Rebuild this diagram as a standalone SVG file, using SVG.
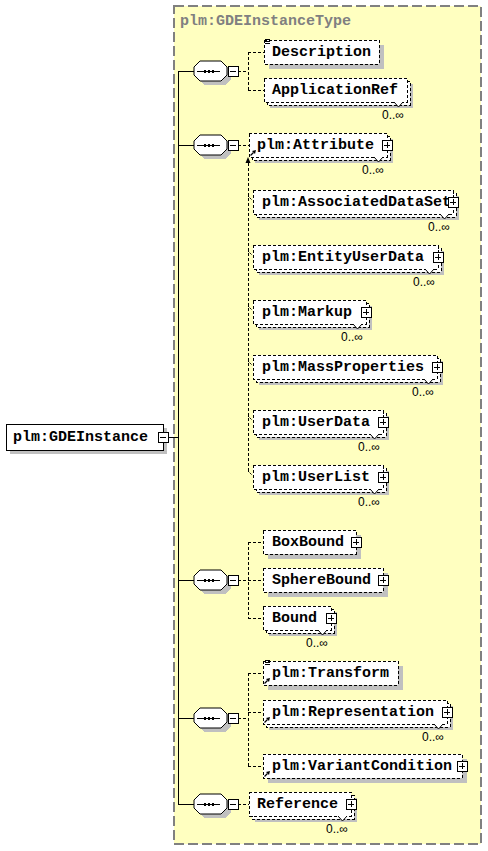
<svg xmlns="http://www.w3.org/2000/svg" xmlns:xlink="http://www.w3.org/1999/xlink" width="488" height="851" viewBox="0 0 488 851">
<style>
.sh{fill:#c0c0c0;stroke:none;shape-rendering:crispEdges}
.bx{fill:#fff;stroke:#000;stroke-width:1;stroke-dasharray:3 2;shape-rendering:crispEdges}
.sb{fill:#fff;stroke:#000;stroke-width:1;shape-rendering:crispEdges}
.ln{stroke:#000;stroke-width:1;fill:none;shape-rendering:crispEdges}
.dc{stroke:#000;stroke-width:1;fill:none;stroke-dasharray:3 2;shape-rendering:crispEdges}
.v{fill:#fff;stroke:#000;stroke-width:1}
.t{font-family:"Liberation Mono","Courier New",monospace;font-weight:bold;font-size:15px;fill:#000}
.tg{font-family:"Liberation Mono","Courier New",monospace;font-weight:bold;font-size:15px;fill:#808080}
.o{font-family:"Liberation Sans",Arial,sans-serif;font-size:12px;fill:#000}
</style>
<defs>
<g id="plus"><rect class="sb" x="0" y="0" width="10" height="10"/><path class="ln" d="M2 5H8M5 2V8"/></g>
<g id="minus"><rect class="sb" x="0" y="0" width="10" height="10"/><path class="ln" d="M2 5H8"/></g>
<g id="seq">
<polygon class="sh" points="10,-6 31,-6 37,0 37,8 31,14 10,14 4,8 4,0"/>
<polygon points="6,-10 27,-10 33,-4 33,4 27,10 6,10 0,4 0,-4" fill="#fff" stroke="#000" stroke-width="1"/>
<path class="ln" d="M3 0H26"/>
<rect x="10" y="-1" width="2" height="3" fill="#000"/>
<rect x="14" y="-1" width="2" height="3" fill="#000"/>
<rect x="18" y="-1" width="2" height="3" fill="#000"/>
<use xlink:href="#minus" href="#minus" x="34" y="-5"/>
</g>
<g id="ra"><path d="M1.5 -1.5L4.5 -4.5" stroke="#000" stroke-width="1.2" fill="none"/><polygon points="7,-7 3,-6 6,-3" fill="#000"/></g>
<g id="eq"><path class="ln" d="M1 -1H6M1 1H6M1 3H6"/></g>
</defs>

<!-- complex type container -->
<g id="n-GDEInstanceType">
<rect x="174" y="6" width="307" height="838" fill="#ffffc0" stroke="#808080" stroke-width="2" stroke-dasharray="10 4"/>
<text class="tg" x="180" y="25">plm:GDEInstanceType</text>
</g>

<!-- connectors -->
<g id="connectors">
<path class="ln" d="M168 437H178M178 71V804M178 71H194M178 145H194M178 580H194M178 718H194M178 804H194"/>
<path class="dc" d="M238 71H248M248 52V90M248 52H264M248 90H264"/>
<path class="dc" d="M238 145H249"/>
<path class="dc" d="M248 163V472"/>
<polygon points="248,157 245.5,163 250.5,163" fill="#000"/>
<path d="M248 196L252 200M248 251L252 255M248 306L252 310M248 361L252 365M248 416L252 420M248 471L252 475" stroke="#000" stroke-width="1" stroke-dasharray="2 1" fill="none"/>
<path class="dc" d="M238 580H248M248 542V618M248 542H263M248 580H263M248 618H263"/>
<path class="dc" d="M238 718H248M248 673V766M248 673H263M248 712H263M248 766H263"/>
<path class="dc" d="M238 804H249"/>
</g>

<!-- root element -->
<g id="n-GDEInstance">
<rect class="sh" x="10" y="428" width="157" height="26"/>
<rect class="sb" x="6" y="424" width="157" height="26"/>
<text class="t" x="13" y="441">plm:GDEInstance</text>
<use xlink:href="#minus" href="#minus" x="158" y="432"/>
</g>

<!-- sequences -->
<g id="n-seq1"><use xlink:href="#seq" href="#seq" x="194" y="71"/></g>
<g id="n-seq2"><use xlink:href="#seq" href="#seq" x="194" y="145"/></g>
<g id="n-seq3"><use xlink:href="#seq" href="#seq" x="194" y="580"/></g>
<g id="n-seq4"><use xlink:href="#seq" href="#seq" x="194" y="718"/></g>
<g id="n-seq5"><use xlink:href="#seq" href="#seq" x="194" y="804"/></g>

<!-- elements -->
<g id="n-Description">
<rect class="sh" x="269" y="45" width="115" height="24"/>
<rect class="bx" x="264" y="40" width="115" height="24"/>
<use xlink:href="#eq" href="#eq" x="264" y="40"/>
<text class="t" x="272" y="56">Description</text>
</g>

<g id="n-ApplicationRef">
<rect class="sh" x="270" y="84" width="143" height="24"/>
<rect class="bx" x="267" y="81" width="143" height="24"/>
<rect class="bx" x="264" y="78" width="143" height="24"/>
<polyline class="v" points="394,102 398.5,107 403,102"/>
<text class="t" x="272" y="94">ApplicationRef</text>
<text class="o" x="382" y="118.5">0..∞</text>
</g>

<g id="n-Attribute">
<rect class="sh" x="255" y="139" width="138" height="24"/>
<rect class="bx" x="252" y="136" width="138" height="24"/>
<rect class="bx" x="249" y="133" width="138" height="24"/>
<polyline class="v" points="374,157 378.5,162 383,157"/>
<use xlink:href="#ra" href="#ra" x="249" y="157"/>
<text class="t" x="257" y="149">plm:Attribute</text>
<use xlink:href="#plus" href="#plus" x="382" y="140"/>
<text class="o" x="362" y="173.5">0..∞</text>
</g>

<g id="n-AssociatedDataSet">
<rect class="sh" x="259" y="196" width="200" height="24"/>
<rect class="bx" x="256" y="193" width="200" height="24"/>
<rect class="bx" x="253" y="190" width="200" height="24"/>
<polyline class="v" points="440,214 444.5,219 449,214"/>
<text class="t" x="262" y="206">plm:AssociatedDataSet</text>
<use xlink:href="#plus" href="#plus" x="448" y="197"/>
<text class="o" x="428" y="230.5">0..∞</text>
</g>

<g id="n-EntityUserData">
<rect class="sh" x="259" y="251" width="185" height="24"/>
<rect class="bx" x="256" y="248" width="185" height="24"/>
<rect class="bx" x="253" y="245" width="185" height="24"/>
<polyline class="v" points="425,269 429.5,274 434,269"/>
<text class="t" x="262" y="261">plm:EntityUserData</text>
<use xlink:href="#plus" href="#plus" x="433" y="252"/>
<text class="o" x="413" y="285.5">0..∞</text>
</g>

<g id="n-Markup">
<rect class="sh" x="259" y="306" width="113" height="24"/>
<rect class="bx" x="256" y="303" width="113" height="24"/>
<rect class="bx" x="253" y="300" width="113" height="24"/>
<polyline class="v" points="353,324 357.5,329 362,324"/>
<text class="t" x="262" y="316">plm:Markup</text>
<use xlink:href="#plus" href="#plus" x="361" y="307"/>
<text class="o" x="341" y="340.5">0..∞</text>
</g>

<g id="n-MassProperties">
<rect class="sh" x="259" y="361" width="184" height="24"/>
<rect class="bx" x="256" y="358" width="184" height="24"/>
<rect class="bx" x="253" y="355" width="184" height="24"/>
<polyline class="v" points="424,379 428.5,384 433,379"/>
<text class="t" x="262" y="371">plm:MassProperties</text>
<use xlink:href="#plus" href="#plus" x="432" y="362"/>
<text class="o" x="412" y="395.5">0..∞</text>
</g>

<g id="n-UserData">
<rect class="sh" x="259" y="416" width="130" height="24"/>
<rect class="bx" x="256" y="413" width="130" height="24"/>
<rect class="bx" x="253" y="410" width="130" height="24"/>
<polyline class="v" points="370,434 374.5,439 379,434"/>
<text class="t" x="262" y="426">plm:UserData</text>
<use xlink:href="#plus" href="#plus" x="378" y="417"/>
<text class="o" x="358" y="450.5">0..∞</text>
</g>

<g id="n-UserList">
<rect class="sh" x="259" y="471" width="130" height="24"/>
<rect class="bx" x="256" y="468" width="130" height="24"/>
<rect class="bx" x="253" y="465" width="130" height="24"/>
<polyline class="v" points="370,489 374.5,494 379,489"/>
<text class="t" x="262" y="481">plm:UserList</text>
<use xlink:href="#plus" href="#plus" x="378" y="472"/>
<text class="o" x="358" y="505.5">0..∞</text>
</g>

<g id="n-BoxBound">
<rect class="sh" x="268" y="535" width="93" height="24"/>
<rect class="bx" x="263" y="530" width="93" height="24"/>
<text class="t" x="272" y="546">BoxBound</text>
<use xlink:href="#plus" href="#plus" x="351" y="537"/>
</g>

<g id="n-SphereBound">
<rect class="sh" x="268" y="573" width="120" height="24"/>
<rect class="bx" x="263" y="568" width="120" height="24"/>
<text class="t" x="272" y="584">SphereBound</text>
<use xlink:href="#plus" href="#plus" x="378" y="575"/>
</g>

<g id="n-Bound">
<rect class="sh" x="269" y="612" width="68" height="24"/>
<rect class="bx" x="266" y="609" width="68" height="24"/>
<rect class="bx" x="263" y="606" width="68" height="24"/>
<polyline class="v" points="318,630 322.5,635 327,630"/>
<text class="t" x="272" y="622">Bound</text>
<use xlink:href="#plus" href="#plus" x="326" y="613"/>
<text class="o" x="306" y="646.5">0..∞</text>
</g>

<g id="n-Transform">
<rect class="sh" x="268" y="666" width="135" height="24"/>
<rect class="bx" x="263" y="661" width="135" height="24"/>
<use xlink:href="#eq" href="#eq" x="264" y="661"/>
<use xlink:href="#ra" href="#ra" x="263" y="685"/>
<text class="t" x="272" y="677">plm:Transform</text>
</g>

<g id="n-Representation">
<rect class="sh" x="269" y="706" width="184" height="24"/>
<rect class="bx" x="266" y="703" width="184" height="24"/>
<rect class="bx" x="263" y="700" width="184" height="24"/>
<polyline class="v" points="434,724 438.5,729 443,724"/>
<use xlink:href="#ra" href="#ra" x="263" y="724"/>
<text class="t" x="272" y="716">plm:Representation</text>
<use xlink:href="#plus" href="#plus" x="442" y="707"/>
<text class="o" x="422" y="740.5">0..∞</text>
</g>

<g id="n-VariantCondition">
<rect class="sh" x="268" y="759" width="199" height="24"/>
<rect class="bx" x="263" y="754" width="199" height="24"/>
<use xlink:href="#ra" href="#ra" x="263" y="778"/>
<text class="t" x="272" y="770">plm:VariantCondition</text>
<use xlink:href="#plus" href="#plus" x="457" y="761"/>
</g>

<g id="n-Reference">
<rect class="sh" x="255" y="798" width="102" height="24"/>
<rect class="bx" x="252" y="795" width="102" height="24"/>
<rect class="bx" x="249" y="792" width="102" height="24"/>
<polyline class="v" points="338,816 342.5,821 347,816"/>
<text class="t" x="257" y="808">Reference</text>
<use xlink:href="#plus" href="#plus" x="346" y="799"/>
<text class="o" x="326" y="832.5">0..∞</text>
</g>
</svg>
